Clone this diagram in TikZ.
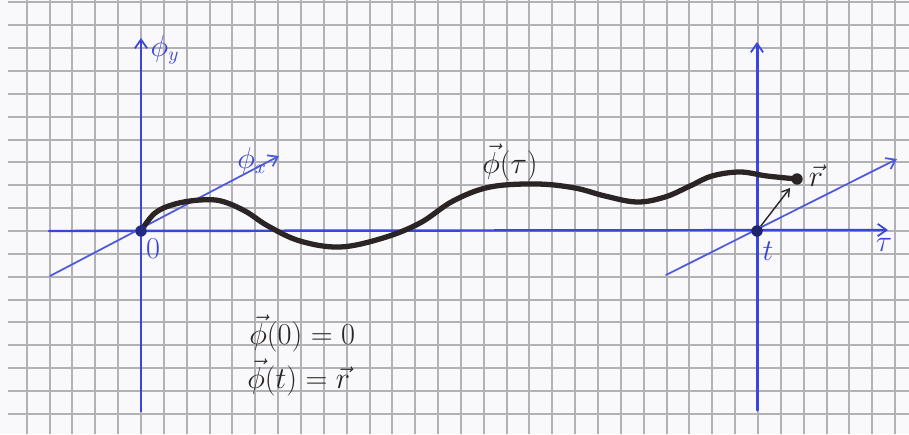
\documentclass[tikz,border=0pt]{standalone}
\usetikzlibrary{arrows.meta}
\definecolor{paper}{RGB}{249,249,251}
\definecolor{gridc}{RGB}{178,178,181}
\definecolor{axisblue}{RGB}{58,70,218}
\definecolor{ink}{RGB}{42,36,36}
\begin{document}
\begin{tikzpicture}[x=0.02cm,y=-0.02cm,
  gridline/.style={draw=gridc, line width=1.13pt},
  yaxis/.style={draw=axisblue, line width=1.7pt, line cap=round},
  haxis/.style={draw=axisblue, line width=1.4pt, line cap=round},
  daxis/.style={draw=axisblue!90!white, line width=1.0pt, line cap=round},
  barb/.style={-{Straight Barb[length=5pt,width=7pt,line width=1pt]}},
  curvestyle/.style={draw=ink, line width=3pt, line cap=round, line join=round},
  dotstyle/.style={circle, fill=#1, inner sep=0pt, minimum size=6.5pt},
  rarrow/.style={draw=ink, line width=0.8pt, -{Straight Barb[length=4pt,width=5pt,line width=0.8pt]}},
  bluelabel/.style={text=axisblue, font=\fontsize{16}{18}\selectfont, inner sep=0pt},
  inklabel/.style={text=ink, font=\fontsize{16}{18}\selectfont, inner sep=0pt}]
\useasboundingbox (0,0) rectangle (909,434);
\fill[paper] (0,0) rectangle (909,434);
% grid
\foreach \k in {-5,...,33} {\draw[gridline] ({round(141+22.85*\k)},0) -- ({round(141+22.85*\k)},434);}
\foreach \k in {-10,...,8} {\draw[gridline] (8,{round(231+22.85*\k)}) -- (909,{round(231+22.85*\k)});}
% coordinates
\coordinate (O) at (141,231);
\coordinate (T) at (757,231);
\coordinate (R) at (797,179);
\coordinate (ybot) at (141,411);
\coordinate (ytop) at (141,38);
\coordinate (hleft) at (49,231);
\coordinate (hright) at (888,230);
\coordinate (dxs) at (50,276);
\coordinate (dxe) at (279,156);
\coordinate (vbot) at (757,410);
\coordinate (vtop) at (757,42);
\coordinate (d2s) at (666,275);
\coordinate (d2e) at (897,159);
% axes
\draw[haxis,barb] (hleft) -- (hright);
\draw[yaxis,barb] (ybot) -- (ytop);
\draw[daxis,barb] (dxs) -- (dxe);
\draw[yaxis,barb] (vbot) -- (vtop);
\draw[daxis,barb] (d2s) -- (d2e);
% curve
\draw[curvestyle] plot[smooth, tension=0.6] coordinates {(O) (155,213) (175,204) (200,200) (221,201) (245,211) (268,226) (300,241) (340,247) (383,238) (420,223) (453,201) (490,187) (537,184) (575,188) (605,196) (637,202) (665,197) (690,186) (712,176) (740,172) (767,176) (R)};
% dots
\node[dotstyle={axisblue!60!black}] (Od) at (O) {};
\node[dotstyle={axisblue!50!black}] (Td) at (T) {};
\node[dotstyle=ink] (Rd) at (R) {};
\draw[rarrow, shorten >=3pt] (Td) -- (Rd);
% labels
\node[bluelabel] (ly) at (165,50) {$\phi_y$};
\node[bluelabel] (lx) at (252,161) {$\phi_x$};
\node[bluelabel] (l0) at (153,249) {$0$};
\node[bluelabel] (lt) at (768,251) {$t$};
\node[bluelabel] (ltau) at (884,245) {$\tau$};
\node[inklabel] (lphi) at (510,162) {$\vec{\phi}(\tau)$};
\node[inklabel] (lr) at (816,176) {$\vec{r}$};
\node[inklabel, anchor=west] (eq1) at (249,333) {$\vec{\phi}(0)=0$};
\node[inklabel, anchor=west] (eq2) at (247,377) {$\vec{\phi}(t)=\vec{r}$};
\end{tikzpicture}
\end{document}
